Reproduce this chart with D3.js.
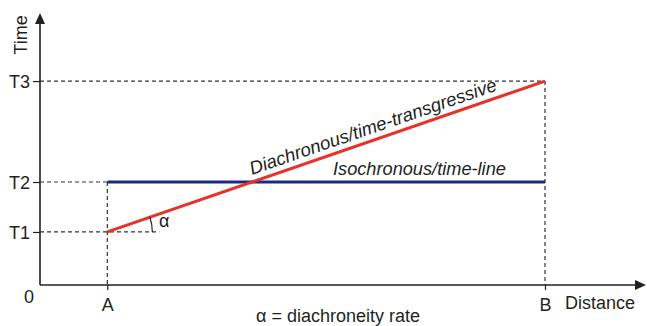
<!DOCTYPE html>
<html><head><meta charset="utf-8">
<script src="https://cdn.jsdelivr.net/npm/d3@7"></script>
<style>body{margin:0;background:#fff}svg{display:block}text{font-family:"Liberation Sans",Arial,Helvetica,sans-serif;fill:#231f20}</style>
</head><body><svg id="c" width="647" height="326"></svg>
<script>
const timeLabels = ["T1", "T2", "T3"];
const timeValues = [1.03, 2.0, 3.96];
const distLabels = ["A", "B"];
const distValues = [1, 7.5];
const diachronous = [{d: 1, t: 1.03}, {d: 7.5, t: 3.96}];
const isochronous = [{d: 1, t: 2.0}, {d: 7.5, t: 2.0}];

const svg = d3.select("#c");
const x = d3.scaleLinear().domain([0, 9]).range([40, 646]);
const y = d3.scaleLinear().domain([0, 1]).range([285, 233.5]);
const ink = "#231f20";
const fs = 18;

// dashed guides
const dash = "4,3";
const g = svg.append("g").attr("stroke", "#333").attr("stroke-width", 1.2).attr("stroke-dasharray", dash).attr("fill", "none");
g.append("line").attr("x1", x(0)).attr("x2", x(distValues[1])).attr("y1", y(timeValues[2])).attr("y2", y(timeValues[2]));
g.append("line").attr("x1", x(0)).attr("x2", x(distValues[0])).attr("y1", y(timeValues[1])).attr("y2", y(timeValues[1]));
g.append("line").attr("x1", x(0)).attr("x2", x(distValues[0]) + 52).attr("y1", y(timeValues[0])).attr("y2", y(timeValues[0]));
g.append("line").attr("x1", x(distValues[0])).attr("x2", x(distValues[0])).attr("y1", y(timeValues[1])).attr("y2", y(0));
g.append("line").attr("x1", x(distValues[1])).attr("x2", x(distValues[1])).attr("y1", y(timeValues[2])).attr("y2", y(0));

// axes
const yAxis = d3.axisLeft(y).tickValues(timeValues).tickFormat((d, i) => timeLabels[i]).tickSize(7).tickPadding(3);
const xAxis = d3.axisBottom(x).tickValues(distValues).tickFormat((d, i) => distLabels[i]).tickSize(5).tickPadding(8);
const ya = svg.append("g").attr("transform", `translate(${x(0)},0)`).call(yAxis);
const xa = svg.append("g").attr("transform", `translate(0,${y(0)})`).call(xAxis);
[ya, xa].forEach(a => {
  a.attr("font-family", null).attr("font-size", null);
  a.select(".domain").remove();
  a.selectAll(".tick line").attr("stroke", ink).attr("stroke-width", 1.2);
  a.selectAll(".tick text").attr("font-size", fs).attr("fill", ink);
});
ya.selectAll(".tick text").attr("dy", "0.36em");

// axis lines with arrows
svg.append("line").attr("x1", x(0)).attr("x2", x(0)).attr("y1", y(0)).attr("y2", 22).attr("stroke", ink).attr("stroke-width", 1.6);
svg.append("path").attr("d", `M${x(0)},13 L${x(0) - 5},24 L${x(0) + 5},24 Z`).attr("fill", ink);
svg.append("line").attr("x1", x(0)).attr("x2", 638).attr("y1", y(0)).attr("y2", y(0)).attr("stroke", ink).attr("stroke-width", 1.6);
svg.append("path").attr("d", `M646,${y(0)} L635,${y(0) - 5} L635,${y(0) + 5} Z`).attr("fill", ink);

// labels
svg.append("text").attr("transform", `translate(27,35) rotate(-90)`).attr("text-anchor", "middle").attr("font-size", 18).text("Time");
svg.append("text").attr("x", 29).attr("y", 303).attr("text-anchor", "middle").attr("font-size", fs).text("0");
svg.append("text").attr("x", 565).attr("y", 309).attr("font-size", 18).text("Distance");
svg.append("text").attr("x", 338).attr("y", 322).attr("text-anchor", "middle").attr("font-size", 18).text("α = diachroneity rate");

// lines
const line = d3.line().x(d => x(d.d)).y(d => y(d.t));
svg.append("path").datum(isochronous).attr("d", line).attr("stroke", "#1c2a84").attr("stroke-width", 3).attr("fill", "none");
svg.append("path").datum(diachronous).attr("d", line).attr("stroke", "#e63329").attr("stroke-width", 3).attr("fill", "none");

// angle arc
const x0 = x(diachronous[0].d), y0 = y(diachronous[0].t);
const ang = Math.atan2(y(diachronous[0].t) - y(diachronous[1].t), x(diachronous[1].d) - x(diachronous[0].d));
const r = 45;
svg.append("path").attr("d", `M${x0 + r * Math.cos(ang)},${y0 - r * Math.sin(ang)} A${r},${r} 0 0 1 ${x0 + r},${y0}`)
  .attr("stroke", ink).attr("stroke-width", 1.2).attr("fill", "none");
svg.append("text").attr("x", 159).attr("y", 227).attr("font-size", 18).text("α");

// line labels
const deg = ang * 180 / Math.PI;
svg.append("text").attr("transform", `translate(252,175) rotate(${-deg})`).attr("font-size", 18.5).attr("font-style", "italic").text("Diachronous/time-transgressive");
svg.append("text").attr("x", 333).attr("y", 175).attr("font-size", 18.2).attr("font-style", "italic").text("Isochronous/time-line");
</script></body></html>
